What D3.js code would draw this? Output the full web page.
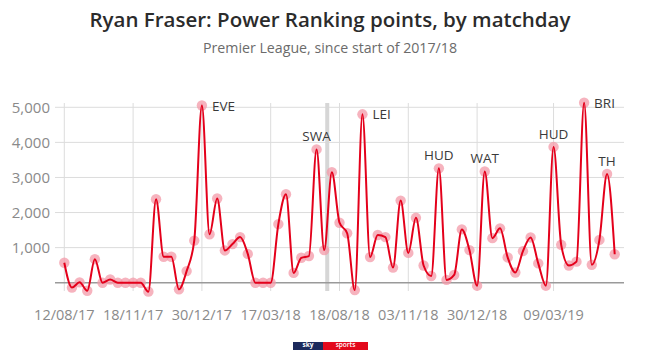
<!DOCTYPE html>
<html>
<head>
<meta charset="utf-8">
<script src="https://cdn.jsdelivr.net/npm/d3@7"></script>
<style>
  html, body { margin: 0; padding: 0; background: #fff; }
  svg { display: block; font-family: "Open Sans", sans-serif; }
</style>
</head>
<body>
<svg id="chart" width="660" height="350"></svg>
<script>
// Power Ranking points per matchday, 2017/18 onwards
const points = [
  570, -140, 10, -230, 670, 0, 90, 0, 0, 0, 0, -255, 2380, 740, 740, -190, 330, 1200, 5050, 1380,
  2400, 920, 1100, 1300, 820, 0, 0, 0, 1670, 2520, 280, 710, 760, 3800, 930, 3150, 1710, 1410, -210, 4800,
  730, 1360, 1300, 430, 2340, 850, 1850, 490, 190, 3260, 80, 220, 1520, 930, -85, 3170, 1270, 1550, 720, 290,
  900, 1290, 550, -85, 3870, 1080, 490, 600, 5130, 510, 1220, 3100, 810
];
const tickIndex = [0, 9, 18, 27, 36, 45, 54, 64];
const tickLabels = ["12/08/17", "18/11/17", "30/12/17", "17/03/18", "18/08/18", "03/11/18", "30/12/18", "09/03/19"];
const yTicks = [1000, 2000, 3000, 4000, 5000];
const lastMatchOfFirstSeason = 34;
const labelIndex = [18, 33, 39, 49, 55, 64, 68, 71];
const labelText = ["EVE", "SWA", "LEI", "HUD", "WAT", "HUD", "BRI", "TH"];
const labelSide = ["right", "above", "right", "above", "above", "above", "right", "above"];

const svg = d3.select("#chart");
const plot = { left: 55, right: 624, top: 103, bottom: 291 };
const pad = 9.3;

const x = d3.scaleLinear().domain([0, points.length - 1]).range([plot.left + pad, plot.right - pad]);
const y = d3.scaleLinear().domain([0, 5000]).range([282.7, 107.3]);

// Titles
svg.append("text").attr("x", 330).attr("y", 27).attr("text-anchor", "middle")
  .attr("font-size", 20.5).attr("font-weight", 600).attr("fill", "#2b2b2b")
  .text("Ryan Fraser: Power Ranking points, by matchday");
svg.append("text").attr("x", 330).attr("y", 53).attr("text-anchor", "middle")
  .attr("font-size", 14.2).attr("fill", "#6b6b6b")
  .text("Premier League, since start of 2017/18");

// Horizontal gridlines and y labels
svg.append("g").selectAll("line").data(yTicks).join("line")
  .attr("x1", plot.left).attr("x2", plot.right)
  .attr("y1", d => y(d)).attr("y2", d => y(d))
  .attr("stroke", "#dcdcdc").attr("stroke-width", 1);
svg.append("g").selectAll("text").data(yTicks).join("text")
  .attr("x", 50).attr("y", d => y(d)).attr("dy", "0.35em")
  .attr("text-anchor", "end").attr("font-size", 15).attr("fill", "#8a8a8a")
  .text(d => d3.format(",")(d));

// Vertical gridlines and x labels
svg.append("g").selectAll("line").data(tickIndex).join("line")
  .attr("x1", d => x(d)).attr("x2", d => x(d))
  .attr("y1", plot.top).attr("y2", plot.bottom)
  .attr("stroke", "#dcdcdc").attr("stroke-width", 1);
svg.append("g").selectAll("text").data(tickIndex).join("text")
  .attr("x", d => x(d)).attr("y", 320)
  .attr("text-anchor", "middle").attr("font-size", 14.5).attr("fill", "#8a8a8a")
  .text((d, i) => tickLabels[i]);

// Season break marker
const breakX = (x(lastMatchOfFirstSeason) + x(lastMatchOfFirstSeason + 1)) / 2 - 0.8;
svg.append("rect").attr("x", breakX - 2).attr("y", plot.top)
  .attr("width", 4).attr("height", plot.bottom - plot.top).attr("fill", "#d6d6d6");

// Zero baseline
svg.append("line").attr("x1", plot.left).attr("x2", plot.right)
  .attr("y1", y(0)).attr("y2", y(0)).attr("stroke", "#9a9a9a").attr("stroke-width", 1.5);

// Markers
svg.append("g").selectAll("circle").data(points).join("circle")
  .attr("cx", (d, i) => x(i)).attr("cy", d => y(d)).attr("r", 5.2)
  .attr("fill", "#f39aa8").attr("fill-opacity", 0.75);

// Line
const line = d3.line().x((d, i) => x(i)).y(d => y(d)).curve(d3.curveMonotoneX);
svg.append("path").datum(points).attr("d", line)
  .attr("fill", "none").attr("stroke", "#e4001b").attr("stroke-width", 2);

// Opponent labels on standout games
svg.append("g").selectAll("text").data(labelIndex).join("text")
  .attr("x", (d, i) => labelSide[i] === "right" ? x(d) + 10 : x(d))
  .attr("y", (d, i) => labelSide[i] === "right" ? y(points[d]) + 5 : y(points[d]) - 8)
  .attr("text-anchor", (d, i) => labelSide[i] === "right" ? "start" : "middle")
  .attr("font-size", 13.5).attr("fill", "#3a3a3a")
  .text((d, i) => labelText[i]);

// Sky Sports badge along the bottom edge
const badge = svg.append("g");
badge.append("rect").attr("x", 293).attr("y", 342).attr("width", 30).attr("height", 8).attr("fill", "#1c2a5c");
badge.append("rect").attr("x", 323).attr("y", 342).attr("width", 45).attr("height", 8).attr("fill", "#e3091c");
badge.append("text").attr("x", 308).attr("y", 347.3).attr("text-anchor", "middle")
  .attr("font-size", 6.5).attr("font-weight", 700).attr("fill", "#fff").text("sky");
badge.append("text").attr("x", 345.5).attr("y", 347.3).attr("text-anchor", "middle")
  .attr("font-size", 6.5).attr("font-weight", 600).attr("fill", "#fff").text("sports");
</script>
</body>
</html>
